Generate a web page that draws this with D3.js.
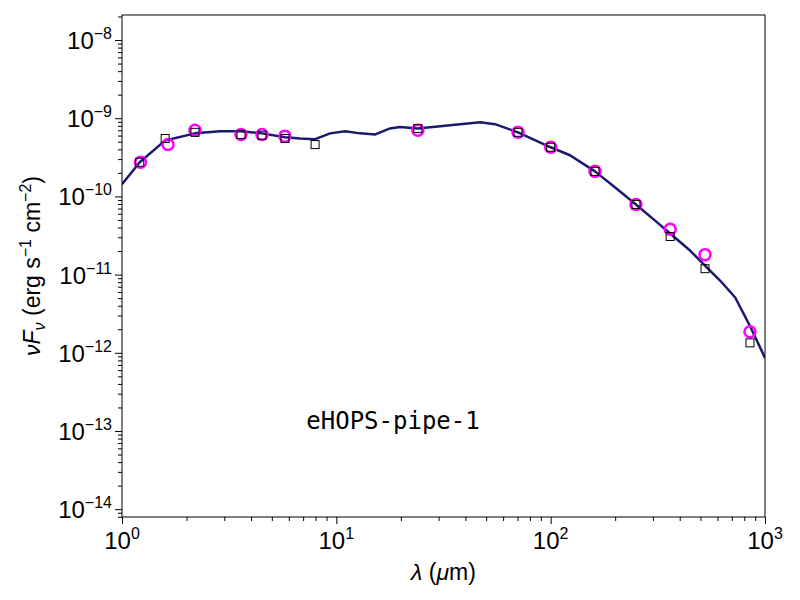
<!DOCTYPE html>
<meta charset="utf-8">
<body style="margin:0;background:#fff">
<script src="https://cdn.jsdelivr.net/npm/d3@7"></script>
<script>
var width = 800, height = 600;
var margin = {left: 122, right: 35, top: 15, bottom: 83};

// model SED line
var modelWave = [1, 1.21, 1.59, 2.19, 2.87, 3.59, 4.5, 5.76, 6.77, 7.96, 9.35, 11.0, 12.9, 15.2, 17.8, 19.8, 24.0, 30.5, 37.8, 46.9, 55, 70.4, 100, 123, 161, 200, 250, 307, 361, 447, 525, 617, 726, 851, 1000];
var modelFlux = [1.43e-10, 2.73e-10, 5.2e-10, 6.4e-10, 6.8e-10, 6.8e-10, 6.4e-10, 5.7e-10, 5.5e-10, 5.4e-10, 6.4e-10, 6.8e-10, 6.4e-10, 6.2e-10, 7.4e-10, 7.7e-10, 7.4e-10, 7.9e-10, 8.4e-10, 8.9e-10, 8.4e-10, 6.6e-10, 4.25e-10, 3.36e-10, 2.09e-10, 1.30e-10, 7.9e-11, 4.9e-11, 3.36e-11, 2.03e-11, 1.30e-11, 8.4e-12, 5.1e-12, 2.2e-12, 8.6e-13];

// observed photometry (circles)
var obsWave = [1.22, 1.64, 2.19, 3.59, 4.5, 5.76, 24.0, 70.4, 100, 161, 250, 361, 525, 851];
var obsFlux = [2.73e-10, 4.6e-10, 7.0e-10, 6.2e-10, 6.2e-10, 5.9e-10, 7.0e-10, 6.6e-10, 4.25e-10, 2.09e-10, 7.9e-11, 3.8e-11, 1.8e-11, 1.86e-12];

// model synthetic photometry (squares)
var synWave = [1.21, 1.59, 2.19, 3.59, 4.5, 5.76, 7.96, 24.0, 70.4, 100, 161, 250, 361, 525, 851];
var synFlux = [2.73e-10, 5.5e-10, 6.6e-10, 6.2e-10, 6.05e-10, 5.5e-10, 4.6e-10, 7.4e-10, 6.6e-10, 4.25e-10, 2.09e-10, 7.9e-11, 3.07e-11, 1.19e-11, 1.34e-12];

var xTicks = [1, 10, 100, 1000], xExp = ["0", "1", "2", "3"];
var yTicks = [1e-14, 1e-13, 1e-12, 1e-11, 1e-10, 1e-9, 1e-8], yExp = ["\u221214", "\u221213", "\u221212", "\u221211", "\u221210", "\u22129", "\u22128"];

var svg = d3.select("body").append("svg").attr("width", width).attr("height", height)
    .style("font-family", "'Liberation Sans', Arial, sans-serif");

var x = d3.scaleLog().domain([1, 1000]).range([margin.left, width - margin.right]);
var y = d3.scaleLog().domain([Math.pow(10, -14.1), Math.pow(10, -7.68)]).range([height - margin.bottom, margin.top]);

svg.append("defs").append("clipPath").attr("id", "clip").append("rect")
    .attr("x", margin.left).attr("y", margin.top)
    .attr("width", width - margin.left - margin.right).attr("height", height - margin.top - margin.bottom);

var plot = svg.append("g").attr("clip-path", "url(#clip)");

plot.append("path").datum(modelWave.map(function(w, i) { return [w, modelFlux[i]]; }))
    .attr("d", d3.line().x(function(d) { return x(d[0]); }).y(function(d) { return y(d[1]); }))
    .attr("fill", "none").attr("stroke", "#191970").attr("stroke-width", 2.5).attr("stroke-linejoin", "round");

plot.selectAll("circle.obs").data(obsWave).enter().append("circle")
    .attr("cx", function(d) { return x(d); }).attr("cy", function(d, i) { return y(obsFlux[i]); })
    .attr("r", 5.5).attr("fill", "none").attr("stroke", "#ff00ff").attr("stroke-width", 2.5);

plot.selectAll("rect.syn").data(synWave).enter().append("rect")
    .attr("x", function(d) { return x(d) - 4; }).attr("y", function(d, i) { return y(synFlux[i]) - 4; })
    .attr("width", 8).attr("height", 8).attr("fill", "none").attr("stroke", "#000").attr("stroke-width", 1);

// minor ticks
var minorX = [], minorY = [];
for (var d = 0; d < 3; d++) for (var k = 2; k < 10; k++) minorX.push(k * Math.pow(10, d));
for (var e = -15; e < -7; e++) for (var k = 2; k < 10; k++) {
  var v = k * Math.pow(10, e);
  if (v > y.domain()[0] && v < y.domain()[1]) minorY.push(v);
}

var xAxis = svg.append("g").attr("transform", "translate(0," + (height - margin.bottom) + ")")
    .call(d3.axisBottom(x).tickValues(xTicks).tickSize(7).tickFormat(""));
xAxis.append("g").call(d3.axisBottom(x).tickValues(minorX).tickSize(4).tickFormat(""));
var yAxis = svg.append("g").attr("transform", "translate(" + margin.left + ",0)")
    .call(d3.axisLeft(y).tickValues(yTicks).tickSize(7).tickFormat(""));
yAxis.append("g").call(d3.axisLeft(y).tickValues(minorY).tickSize(4).tickFormat(""));
svg.selectAll(".domain").remove();

svg.append("rect").attr("x", margin.left).attr("y", margin.top)
    .attr("width", width - margin.left - margin.right).attr("height", height - margin.top - margin.bottom)
    .attr("fill", "none").attr("stroke", "#000");

xTicks.forEach(function(t, i) {
  var tx = svg.append("text").attr("x", x(t)).attr("y", height - margin.bottom + 32)
      .attr("text-anchor", "middle").attr("font-size", 24);
  tx.append("tspan").text("10");
  tx.append("tspan").attr("dy", -10).attr("font-size", 16).text(xExp[i]);
});
yTicks.forEach(function(t, i) {
  var ty = svg.append("text").attr("x", margin.left - 10).attr("y", y(t) + 9)
      .attr("text-anchor", "end").attr("font-size", 24);
  ty.append("tspan").text("10");
  ty.append("tspan").attr("dy", -10).attr("font-size", 16).text(yExp[i]);
});

var xl = svg.append("text").attr("x", (margin.left + width - margin.right) / 2).attr("y", 580)
    .attr("text-anchor", "middle").attr("font-size", 23);
xl.append("tspan").attr("font-style", "italic").text("\u03bb");
xl.append("tspan").text(" (");
xl.append("tspan").attr("font-style", "italic").text("\u03bc");
xl.append("tspan").text("m)");

var yl = svg.append("text").attr("transform", "translate(40," + (margin.top + (height - margin.top - margin.bottom) / 2) + ") rotate(-90)")
    .attr("text-anchor", "middle").attr("font-size", 23);
yl.append("tspan").attr("font-style", "italic").text("\u03bdF");
yl.append("tspan").attr("font-style", "italic").attr("font-size", 16).attr("dy", 5).text("\u03bd");
yl.append("tspan").attr("dy", -5).text(" (erg s");
yl.append("tspan").attr("font-size", 16).attr("dy", -9).text("\u22121");
yl.append("tspan").attr("dy", 9).text(" cm");
yl.append("tspan").attr("font-size", 16).attr("dy", -9).text("\u22122");
yl.append("tspan").attr("dy", 9).text(")");

svg.append("text").attr("x", 393).attr("y", 429).attr("text-anchor", "middle")
    .attr("font-family", "'DejaVu Sans Mono', monospace").attr("font-size", 24).text("eHOPS-pipe-1");
</script>
</body>
